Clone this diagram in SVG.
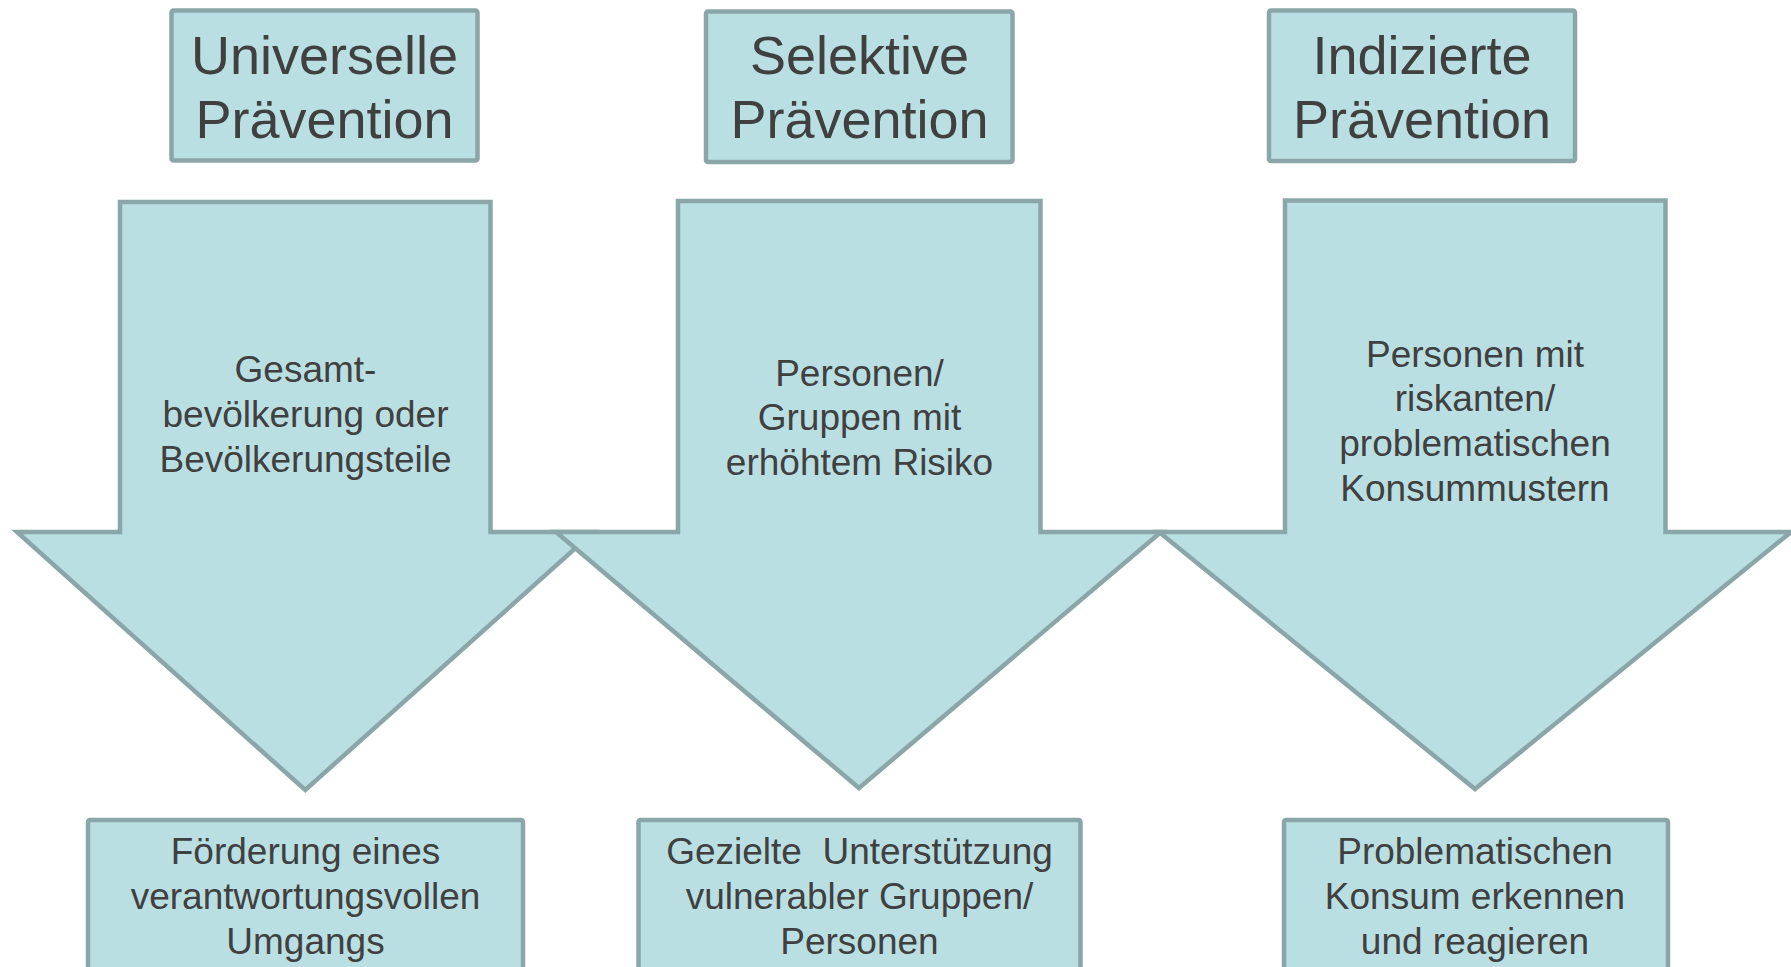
<svg xmlns="http://www.w3.org/2000/svg" width="1791" height="967" viewBox="0 0 1791 967">
<style>
.shape{fill:#badfe2;stroke:#8aa6a8;stroke-width:4.5;stroke-linejoin:miter}
.t{font-family:"Liberation Sans",Arial,sans-serif;fill:#404040;text-anchor:middle}
.big{font-size:54px}
.mid{font-size:37px}
</style>
<rect width="1791" height="967" fill="#ffffff"/>
<g id="connectors"/>
<g id="arrow-universell">
<path class="shape" d="M120,202 L490.5,202 L490.5,532 L593.5,532 L305.25,790 L17,532 L120,532 Z"/>
<text class="t mid"><tspan x="305.5" y="382">Gesamt-</tspan><tspan x="305.5" y="427">bevölkerung oder</tspan><tspan x="305.5" y="472">Bevölkerungsteile</tspan></text>
</g>
<g id="arrow-selektiv">
<path class="shape" d="M678,201 L1040.5,201 L1040.5,532 L1161,532 L859,788 L556,532 L678,532 Z"/>
<text class="t mid"><tspan x="859.5" y="385.5">Personen/</tspan><tspan x="859.5" y="430">Gruppen mit</tspan><tspan x="859.5" y="474.5">erhöhtem Risiko</tspan></text>
</g>
<g id="arrow-indiziert">
<path class="shape" d="M1285,200.5 L1665.5,200.5 L1665.5,532 L1791,532 L1475,789 L1159,532 L1285,532 Z"/>
<text class="t mid"><tspan x="1475" y="366.6">Personen mit</tspan><tspan x="1475" y="411.3">riskanten/</tspan><tspan x="1475" y="456">problematischen</tspan><tspan x="1475" y="500.5">Konsummustern</tspan></text>
</g>
<g id="box-universell">
<rect class="shape" x="171.5" y="10.5" width="306" height="150" rx="2"/>
<text class="t big"><tspan x="324.5" y="74">Universelle</tspan><tspan x="324.5" y="138">Prävention</tspan></text>
</g>
<g id="box-selektiv">
<rect class="shape" x="706" y="11.5" width="306.5" height="150.5" rx="2"/>
<text class="t big"><tspan x="859.5" y="74">Selektive</tspan><tspan x="859.5" y="138">Prävention</tspan></text>
</g>
<g id="box-indiziert">
<rect class="shape" x="1269" y="10.5" width="306" height="150.5" rx="2"/>
<text class="t big"><tspan x="1422" y="74">Indizierte</tspan><tspan x="1422" y="138">Prävention</tspan></text>
</g>
<g id="goal-universell">
<rect class="shape" x="88" y="820" width="435" height="170" rx="2"/>
<text class="t mid"><tspan x="305.5" y="864">Förderung eines</tspan><tspan x="305.5" y="909">verantwortungsvollen</tspan><tspan x="305.5" y="954">Umgangs</tspan></text>
</g>
<g id="goal-selektiv">
<rect class="shape" x="638.5" y="820" width="442" height="170" rx="2"/>
<text class="t mid" xml:space="preserve"><tspan x="859.5" y="864">Gezielte  Unterstützung</tspan><tspan x="859.5" y="909">vulnerabler Gruppen/</tspan><tspan x="859.5" y="954">Personen</tspan></text>
</g>
<g id="goal-indiziert">
<rect class="shape" x="1284" y="820" width="384" height="170" rx="2"/>
<text class="t mid"><tspan x="1475" y="864">Problematischen</tspan><tspan x="1475" y="909">Konsum erkennen</tspan><tspan x="1475" y="954">und reagieren</tspan></text>
</g>
</svg>
